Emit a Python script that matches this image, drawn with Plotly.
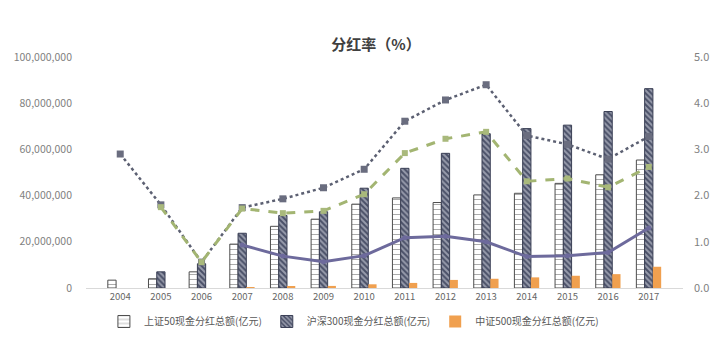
import plotly.graph_objects as go

years = ["2004", "2005", "2006", "2007", "2008", "2009", "2010", "2011",
         "2012", "2013", "2014", "2015", "2016", "2017"]

# Bar series (left axis)
sz50_div = [3.4e6, 4.0e6, 7.0e6, 19.0e6, 26.7e6, 29.8e6, 36.3e6, 39.0e6,
            37.0e6, 40.3e6, 41.0e6, 45.3e6, 49.0e6, 55.4e6]
hs300_div = [None, 7.0e6, 10.5e6, 23.7e6, 31.4e6, 33.0e6, 43.2e6, 51.8e6,
             58.3e6, 66.8e6, 69.0e6, 70.5e6, 76.4e6, 86.3e6]
zz500_div = [None, None, None, 0.3e6, 0.6e6, 0.9e6, 1.6e6, 2.2e6,
             3.5e6, 4.0e6, 4.6e6, 5.3e6, 6.0e6, 9.2e6]

# Line series (right axis, 分红率 %)
rate_dotted = [2.9, 1.8, 0.56, 1.74, 1.93, 2.17, 2.57, 3.61,
               4.07, 4.40, 3.30, 3.11, 2.79, 3.28]
rate_dashed = [None, 1.75, 0.56, 1.72, 1.62, 1.67, 2.03, 2.92,
               3.23, 3.38, 2.31, 2.37, 2.18, 2.62]
rate_solid = [None, None, None, 0.93, 0.69, 0.57, 0.70, 1.09,
              1.12, 1.00, 0.68, 0.70, 0.77, 1.30]

left_ticks = [0, 20e6, 40e6, 60e6, 80e6, 100e6]
left_ticktext = ["0", "20,000,000", "40,000,000", "60,000,000", "80,000,000", "100,000,000"]
right_ticks = [0, 1, 2, 3, 4, 5]
right_ticktext = ["0.0", "1.0", "2.0", "3.0", "4.0", "5.0"]

FONT = "Noto Sans CJK SC, Noto Sans, sans-serif"
GRAY = "#7f7f7f"

fig = go.Figure()

fig.add_trace(go.Bar(
    x=years, y=sz50_div, name="上证50现金分红总额(亿元)",
    marker=dict(color="white", line=dict(color="#4d4d4d", width=1),
                pattern=dict(shape="-", fgcolor="#5a5a5a", bgcolor="white",
                             size=5, solidity=0.2)),
))
fig.add_trace(go.Bar(
    x=years, y=hs300_div, name="沪深300现金分红总额(亿元)",
    marker=dict(color="#454b63", line=dict(color="#3a3f55", width=1),
                pattern=dict(shape="\\", fgcolor="#e4e6ee", bgcolor="#4a5068",
                             size=4, solidity=0.5)),
))
fig.add_trace(go.Bar(
    x=years, y=zz500_div, name="中证500现金分红总额(亿元)",
    marker=dict(color="#f0a04f", line=dict(width=0)),
))

fig.add_trace(go.Scatter(
    x=years, y=rate_dotted, yaxis="y2", mode="lines+markers", showlegend=False,
    line=dict(color="#5c6072", width=2.5, dash="dot"),
    marker=dict(symbol="square", size=7, color="#6a6d7f"),
))
fig.add_trace(go.Scatter(
    x=years, y=rate_dashed, yaxis="y2", mode="lines+markers", showlegend=False,
    line=dict(color="#a3b572", width=3, dash="dash"),
    marker=dict(symbol="square", size=6, color="#a9b97c"),
))
fig.add_trace(go.Scatter(
    x=years, y=rate_solid, yaxis="y2", mode="lines+markers", showlegend=False,
    line=dict(color="#6d6a9c", width=3),
    marker=dict(symbol="circle", size=5, color="#6d6a9c"),
))

fig.update_layout(
    width=720, height=348,
    margin=dict(l=86, r=37, t=57, b=55, pad=0),
    paper_bgcolor="white", plot_bgcolor="white",
    barmode="group", bargap=0.39, bargroupgap=0,
    font=dict(family=FONT, color=GRAY, size=10),
    title=dict(text="<b>分红率（%）</b>", x=376 / 720, xanchor="center",
               y=1 - 45 / 348, yanchor="middle",
               font=dict(family=FONT, size=15, color="#404040")),
    xaxis=dict(type="category", showgrid=False, showline=True,
               linecolor="#d9d9d9", linewidth=1, ticks="",
               tickfont=dict(size=9.5, color="#666666")),
    yaxis=dict(range=[0, 100e6], tickvals=left_ticks, ticktext=left_ticktext,
               showgrid=False, zeroline=False, showline=False, ticks="",
               ticklabelstandoff=13,
               tickfont=dict(size=10.5, color=GRAY)),
    yaxis2=dict(range=[0, 5], tickvals=right_ticks, ticktext=right_ticktext,
                overlaying="y", side="right", showgrid=False, zeroline=False,
                showline=False, ticks="", ticklabelstandoff=10,
                tickfont=dict(size=11, color=GRAY)),
    legend=dict(orientation="h", x=0.03, xanchor="left", y=-0.145,
                yanchor="middle", font=dict(size=10, color="#595959"),
                itemwidth=30, tracegroupgap=0, bgcolor="rgba(0,0,0,0)"),
)

fig.write_html("out.html")
